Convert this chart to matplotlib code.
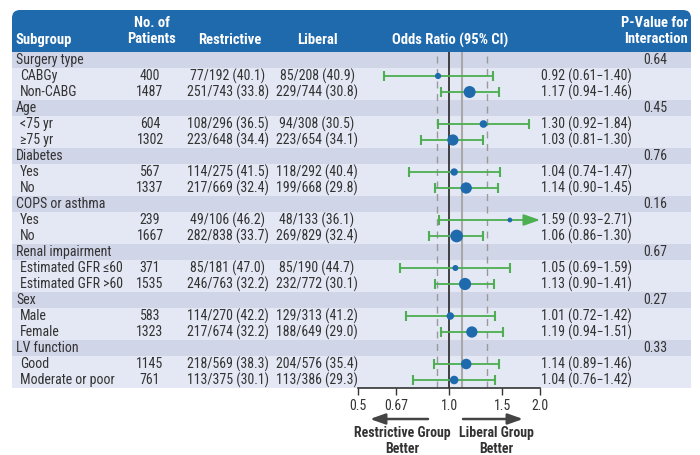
import numpy as np
import matplotlib
matplotlib.use("Agg")
import matplotlib.pyplot as plt
from matplotlib.patches import Rectangle, FancyBboxPatch
from matplotlib.ticker import FixedLocator, FixedFormatter, NullLocator

plt.rcParams['font.family'] = ['Roboto Condensed', 'Liberation Sans Narrow', 'Roboto', 'DejaVu Sans']

# subgroup data
groups = ["Surgery type", "Age", "Diabetes", "COPS or asthma", "Renal impairment", "Sex", "LV function"]
subgroups = [["CABGy", "Non-CABG"], ["<75 yr", "≥75 yr"], ["Yes", "No"], ["Yes", "No"],
             ["Estimated GFR ≤60", "Estimated GFR >60"], ["Male", "Female"], ["Good", "Moderate or poor"]]
patients = [400, 1487, 604, 1302, 567, 1337, 239, 1667, 371, 1535, 583, 1323, 1145, 761]
restrictive = ["77/192 (40.1)", "251/743 (33.8)", "108/296 (36.5)", "223/648 (34.4)",
               "114/275 (41.5)", "217/669 (32.4)", "49/106 (46.2)", "282/838 (33.7)",
               "85/181 (47.0)", "246/763 (32.2)", "114/270 (42.2)", "217/674 (32.2)",
               "218/569 (38.3)", "113/375 (30.1)"]
liberal = ["85/208 (40.9)", "229/744 (30.8)", "94/308 (30.5)", "223/654 (34.1)",
           "118/292 (40.4)", "199/668 (29.8)", "48/133 (36.1)", "269/829 (32.4)",
           "85/190 (44.7)", "232/772 (30.1)", "129/313 (41.2)", "188/649 (29.0)",
           "204/576 (35.4)", "113/386 (29.3)"]
odds = [0.92, 1.17, 1.30, 1.03, 1.04, 1.14, 1.59, 1.06, 1.05, 1.13, 1.01, 1.19, 1.14, 1.04]
ci_lo = [0.61, 0.94, 0.92, 0.81, 0.74, 0.90, 0.93, 0.86, 0.69, 0.90, 0.72, 0.94, 0.89, 0.76]
ci_hi = [1.40, 1.46, 1.84, 1.30, 1.47, 1.45, 2.71, 1.30, 1.59, 1.41, 1.42, 1.51, 1.46, 1.42]
p_inter = ["0.64", "0.45", "0.76", "0.16", "0.67", "0.27", "0.33"]
overall, overall_lo, overall_hi = 1.10, 0.91, 1.34
xticks = [0.5, 0.67, 1.0, 1.5, 2.0]
xticklabels = ["0.5", "0.67", "1.0", "1.5", "2.0"]

blue = "#1f69ad"
dark_band = "#d0d5e8"
light_band = "#e4e8f4"
green = "#4caf50"
txt = "#333333"

fig = plt.figure(figsize=(7, 4.55), dpi=100)
bg = fig.add_axes([0, 0, 1, 1])
bg.set_xlim(0, 700)
bg.set_ylim(455, 0)
bg.axis("off")

# header box with rounded top corners
left, right, top, head_bot = 12, 691, 10, 52
bg.add_patch(FancyBboxPatch((left, top), right - left, head_bot - top,
                            boxstyle="round,pad=0,rounding_size=8", fc=blue, ec="none"))
bg.add_patch(Rectangle((left, 30), right - left, head_bot - 30, fc=blue, ec="none"))

hdr = dict(color="white", fontsize=10.5, fontweight="bold", va="center")
bg.text(16, 40, "Subgroup", ha="left", **hdr)
bg.text(152, 31, "No. of\nPatients", ha="center", linespacing=1.1, **hdr)
bg.text(230, 40, "Restrictive", ha="center", **hdr)
bg.text(317, 40, "Liberal", ha="center", **hdr)
bg.text(450, 40, "Odds Ratio (95% CI)", ha="center", **hdr)
bg.text(688, 31, "P-Value for\nInteraction", ha="right", linespacing=1.1, **hdr)

row_h = 16
n_rows = len(groups) * 3
body = dict(color=txt, fontsize=10, va="center")
k = 0
for g, name in enumerate(groups):
    y0 = head_bot + g * 3 * row_h
    bg.add_patch(Rectangle((left, y0), right - left, row_h, fc=dark_band, ec="none"))
    bg.add_patch(Rectangle((left, y0 + row_h), right - left, 2 * row_h, fc=light_band, ec="none"))
    bg.text(16, y0 + row_h / 2, name, ha="left", **body)
    bg.text(667, y0 + row_h / 2, p_inter[g], ha="right", **body)
    for j, sub in enumerate(subgroups[g]):
        yc = y0 + (j + 1.5) * row_h
        bg.text(20, yc, sub, ha="left", **body)
        bg.text(150, yc, str(patients[k]), ha="center", **body)
        bg.text(228, yc, restrictive[k], ha="center", **body)
        bg.text(317, yc, liberal[k], ha="center", **body)
        bg.text(541, yc, f"{odds[k]:.2f} ({ci_lo[k]:.2f}\u2212{ci_hi[k]:.2f})", ha="left", **body)
        k += 1

# forest plot axes
ax_left, ax_right, ax_bot = 358, 540, 388
ax = fig.add_axes([ax_left / 700, (455 - ax_bot) / 455,
                   (ax_right - ax_left) / 700, (ax_bot - head_bot) / 455])
ax.patch.set_alpha(0)
ax.set_xscale("log")
ax.set_xlim(0.5, 2.0)
ax.set_ylim(n_rows, 0)
for s in ["top", "left", "right"]:
    ax.spines[s].set_visible(False)
ax.spines["bottom"].set_color(txt)
ax.spines["bottom"].set_linewidth(1.2)
ax.set_yticks([])
ax.xaxis.set_major_locator(FixedLocator(xticks))
ax.xaxis.set_major_formatter(FixedFormatter(xticklabels))
ax.xaxis.set_minor_locator(NullLocator())
ax.tick_params(axis="x", direction="out", length=5, width=1, color=txt,
               labelsize=10, labelcolor=txt, pad=3)

ax.axvline(overall, color="#a8a8a8", lw=1.5, zorder=1)
ax.axvline(overall_lo, color="#999999", lw=1, ls=(0, (5, 4)), zorder=1)
ax.axvline(overall_hi, color="#999999", lw=1, ls=(0, (5, 4)), zorder=1)
ax.axvline(1.0, color="#333333", lw=1.3, zorder=2)

ys = []
for g in range(len(groups)):
    ys += [g * 3 + 1.5, g * 3 + 2.5]
ys = np.array(ys)
odds_a = np.array(odds)
lo_a = np.array(ci_lo)
hi_a = np.array(ci_hi)

for i in range(len(odds)):
    if hi_a[i] > 2.0:
        ax.plot([lo_a[i], lo_a[i]], [ys[i] - 0.22, ys[i] + 0.22], color=green, lw=1.5, zorder=3)
        ax.annotate("", xy=(2.0, ys[i]), xytext=(lo_a[i], ys[i]),
                    arrowprops=dict(arrowstyle="-|>,head_length=1.0,head_width=0.35",
                                    color=green, lw=1.3, shrinkA=0, shrinkB=0),
                    annotation_clip=False, zorder=3)
    else:
        ax.errorbar(odds_a[i], ys[i], xerr=[[odds_a[i] - lo_a[i]], [hi_a[i] - odds_a[i]]],
                    fmt="none", ecolor=green, elinewidth=1.3, capsize=3.5, capthick=1.5, zorder=3)

ax.scatter(odds_a, ys, s=np.array(patients) * 0.05, color=blue, zorder=4, linewidths=0)

# direction arrows and captions
arrow = dict(arrowstyle="-|>,head_length=0.9,head_width=0.32", color="#444444", lw=1.8,
             shrinkA=0, shrinkB=0)
bg.annotate("", xy=(370, 419), xytext=(428, 419), arrowprops=arrow)
bg.annotate("", xy=(523, 419), xytext=(463, 419), arrowprops=arrow)
cap = dict(color=txt, fontsize=10, fontweight="bold", ha="center", va="center", linespacing=1.1)
bg.text(402, 441, "Restrictive Group\nBetter", **cap)
bg.text(496, 441, "Liberal Group\nBetter", **cap)

fig.savefig("out.png", dpi=100)
